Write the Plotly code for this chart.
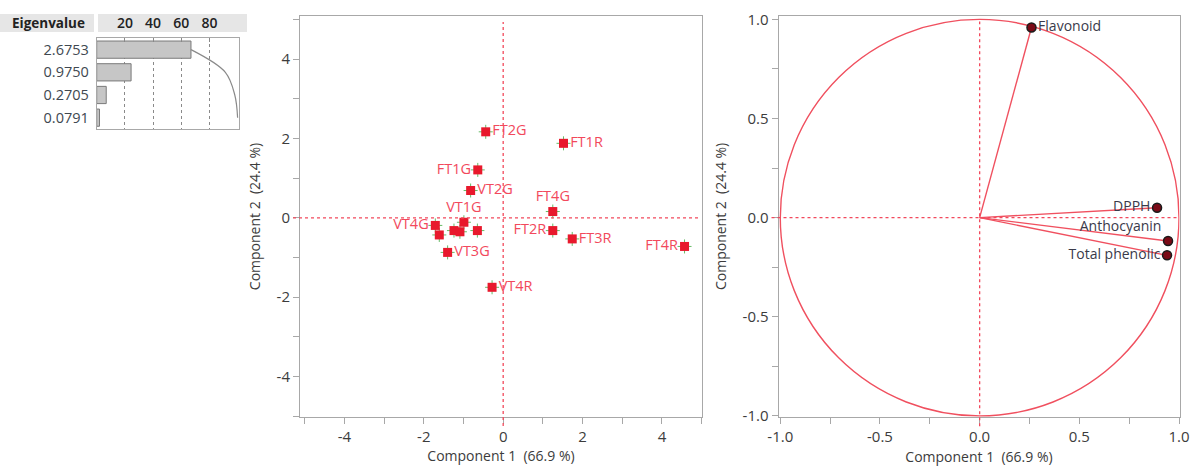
import plotly.graph_objects as go

# ---------------- data ----------------
eig_values = [2.6753, 0.9750, 0.2705, 0.0791]
eig_labels = ["2.6753", "0.9750", "0.2705", "0.0791"]
eig_percent = [66.9, 24.4, 6.76, 1.98]
eig_cum_percent = [66.9, 91.3, 98.0, 100.0]

score_names = ["FT2G", "FT1R", "FT1G", "VT2G", "FT4G", "VT1G", "VT4G", "VT1R",
               "VT2R", "VT3R", "FT3G", "VT3G", "FT2R", "FT3R", "FT4R", "VT4R"]
score_show = [1, 1, 1, 1, 1, 1, 1, 0, 0, 0, 0, 1, 1, 1, 1, 1]
score_pc1 = [-0.44, 1.52, -0.64, -0.82, 1.25, -0.99, -1.71, -1.61,
             -1.24, -1.09, -0.65, -1.40, 1.25, 1.74, 4.57, -0.28]
score_pc2 = [2.17, 1.88, 1.21, 0.69, 0.16, -0.11, -0.19, -0.43,
             -0.32, -0.35, -0.32, -0.87, -0.32, -0.53, -0.72, -1.75]
score_textpos = ["middle right", "middle right", "middle left", "middle right",
                 "top center", "top center", "middle left", "middle right",
                 "middle right", "middle right", "middle right", "middle right",
                 "middle left", "middle right", "middle left", "middle right"]

load_names = ["Flavonoid", "DPPH", "Anthocyanin", "Total phenolic"]
load_pc1 = [0.26, 0.89, 0.945, 0.94]
load_pc2 = [0.959, 0.05, -0.118, -0.19]
load_textpos = ["middle right", "middle left", "top left", "middle left"]

score_ticks = [-4, -2, 0, 2, 4]
score_ticktext = ["-4", "-2", "0", "2", "4"]
load_ticks = [-1.0, -0.5, 0.0, 0.5, 1.0]
load_ticktext = ["-1.0", "-0.5", "0.0", "0.5", "1.0"]
eig_ticks = [20, 40, 60, 80]

x_title = "Component 1  (66.9 %)"
y_title = "Component 2  (24.4 %)"

# ---------------- layout geometry (pixels) ----------------
W, H = 1192, 468
def fx(px):
    return px / W
def fy(py):
    return 1 - py / H

score_box = dict(l=300, r=702, t=16, b=417)
load_box = dict(l=778.5, r=1179.5, t=15.5, b=417.3)
eig_box = dict(l=96.7, r=239.3, t=38.3, b=129)

score_xr = [-5.12, 5.01]
score_yr = [-5.02, 5.09]
load_xr = [-1.009, 1.0025]
load_yr = [-1.007, 1.0196]

FONT = "Open Sans"
TXT = "#3c3c3c"
AX = "#a8a8a8"
RED = "#e8192c"
LRED = "#f2495c"

fig = go.Figure()

# ----- eigenvalue bars -----
fig.add_trace(go.Bar(
    x=eig_percent, y=list(range(len(eig_values))), orientation="h",
    marker=dict(color="#c6c6c6", line=dict(color="#7a7a7a", width=1)),
    width=0.76, xaxis="x3", yaxis="y3", hoverinfo="x", showlegend=False))
fig.add_trace(go.Scatter(
    x=eig_cum_percent, y=list(range(len(eig_values))), mode="lines",
    line=dict(color="#8a8a8a", width=1.2, shape="spline"),
    xaxis="x3", yaxis="y3", showlegend=False, hoverinfo="skip"))

# ----- score plot -----
fig.add_trace(go.Scatter(
    x=score_pc1, y=score_pc2, mode="markers",
    marker=dict(symbol="cross-thin", size=10, line=dict(color="#66bb66", width=1)),
    xaxis="x", yaxis="y", showlegend=False, hoverinfo="skip"))
fig.add_trace(go.Scatter(
    x=score_pc1, y=score_pc2, mode="markers+text",
    text=[n if s else "" for n, s in zip(score_names, score_show)],
    hovertext=score_names, hoverinfo="text+x+y",
    textposition=score_textpos,
    textfont=dict(family=FONT, size=14.5, color=LRED),
    marker=dict(symbol="square", size=9, color=RED),
    xaxis="x", yaxis="y", showlegend=False, cliponaxis=False))

# ----- loading plot -----
for nm, a, b in zip(load_names, load_pc1, load_pc2):
    fig.add_trace(go.Scatter(
        x=[0, a], y=[0, b], mode="lines",
        line=dict(color="#f0505f", width=1.4),
        xaxis="x2", yaxis="y2", showlegend=False, hoverinfo="skip"))
fig.add_trace(go.Scatter(
    x=load_pc1, y=load_pc2, mode="markers+text", text=load_names,
    textposition=load_textpos,
    textfont=dict(family=FONT, size=14, color="#3a3a4a"),
    marker=dict(symbol="circle", size=9, color="#7a0a16",
                line=dict(color="#1a1a1a", width=1.5)),
    xaxis="x2", yaxis="y2", showlegend=False, cliponaxis=False))

def axis_common(rng, dom, anchor, tickvals, ticktext, minor_dtick):
    return dict(
        range=rng, domain=dom, anchor=anchor, tickvals=tickvals, ticktext=ticktext,
        showgrid=False, zeroline=False, showline=True, linecolor=AX, linewidth=1,
        mirror=True, ticks="outside", ticklen=6, tickcolor=AX, tickwidth=1,
        minor=dict(dtick=minor_dtick, ticks="outside", ticklen=6, tickcolor=AX,
                   showgrid=False, tick0=0),
        tickfont=dict(family=FONT, size=15, color=TXT),
        automargin=False, fixedrange=True)

xa1 = axis_common(score_xr, [fx(score_box["l"]), fx(score_box["r"])], "y",
                  score_ticks, score_ticktext, 1)
xa1["title"] = dict(text=x_title, font=dict(family=FONT, size=14, color=TXT), standoff=6)
ya1 = axis_common(score_yr, [fy(score_box["b"]), fy(score_box["t"])], "x",
                  score_ticks, score_ticktext, 1)
ya1["title"] = dict(text=y_title, font=dict(family=FONT, size=14, color=TXT), standoff=12)

xa2 = axis_common(load_xr, [fx(load_box["l"]), fx(load_box["r"])], "y2",
                  load_ticks, load_ticktext, 0.25)
xa2["title"] = dict(text=x_title, font=dict(family=FONT, size=14, color=TXT), standoff=6)
ya2 = axis_common(load_yr, [fy(load_box["b"]), fy(load_box["t"])], "x2",
                  load_ticks, load_ticktext, 0.25)
ya2["title"] = dict(text=y_title, font=dict(family=FONT, size=14, color=TXT), standoff=12)

xa3 = dict(range=[0, 101.2], domain=[fx(eig_box["l"]), fx(eig_box["r"])], anchor="y3",
           side="top", tickvals=eig_ticks, showgrid=True, gridcolor="#8a8a8a",
           griddash="dot", gridwidth=1, zeroline=False, showline=True, linecolor=AX,
           mirror=True, ticks="inside", ticklen=4, tickcolor="#8a8a8a",
           tickfont=dict(family=FONT, size=14, color="#222222", weight=600),
           ticklabelstandoff=4, automargin=False, fixedrange=True)
ya3 = dict(range=[len(eig_values) - 0.5, -0.5], domain=[fy(eig_box["b"]), fy(eig_box["t"])],
           anchor="x3", tickvals=list(range(len(eig_values))), ticktext=eig_labels,
           showgrid=False, zeroline=False, showline=True, linecolor=AX, mirror=True,
           ticks="", tickfont=dict(family=FONT, size=14.5, color="#404850"),
           ticklabelstandoff=4, automargin=False, fixedrange=True)

shapes = []
# header band of eigenvalue table
shapes.append(dict(type="rect", xref="paper", yref="paper", x0=fx(0), x1=fx(94),
                   y0=fy(32), y1=fy(14), fillcolor="#e6e6e6", line=dict(width=0),
                   layer="below"))
shapes.append(dict(type="rect", xref="paper", yref="paper", x0=fx(98), x1=fx(247),
                   y0=fy(32), y1=fy(14), fillcolor="#e6e6e6", line=dict(width=0),
                   layer="below"))

# zero reference lines (dotted), extending slightly beyond frames like the original
def zero_lines(box, xr, yr):
    out = []
    px0 = box["l"] + (0 - xr[0]) / (xr[1] - xr[0]) * (box["r"] - box["l"])
    py0 = box["b"] - (0 - yr[0]) / (yr[1] - yr[0]) * (box["b"] - box["t"])
    out.append(dict(type="line", xref="paper", yref="paper",
                    x0=fx(px0), x1=fx(px0), y0=fy(box["b"] + 9), y1=fy(box["t"] + 6),
                    line=dict(color=LRED, width=1.3, dash="dot")))
    out.append(dict(type="line", xref="paper", yref="paper",
                    x0=fx(box["l"] - 7), x1=fx(box["r"] - 2), y0=fy(py0), y1=fy(py0),
                    line=dict(color=LRED, width=1.3, dash="dot")))
    return out

shapes += zero_lines(score_box, score_xr, score_yr)
shapes += zero_lines(load_box, load_xr, load_yr)

# unit circle of the loading plot
shapes.append(dict(type="circle", xref="x2", yref="y2", x0=-1, y0=-1, x1=1, y1=1,
                   line=dict(color="#f0505f", width=1.4), layer="below"))

annotations = [
    dict(text="<b>Eigenvalue</b>", xref="paper", yref="paper", x=fx(10), y=fy(23),
         xanchor="left", yanchor="middle", showarrow=False,
         font=dict(family=FONT, size=13.5, color="#222222")),
]

fig.update_layout(
    width=W, height=H, margin=dict(l=0, r=0, t=0, b=0, pad=0, autoexpand=False),
    paper_bgcolor="white", plot_bgcolor="white",
    xaxis=xa1, yaxis=ya1, xaxis2=xa2, yaxis2=ya2, xaxis3=xa3, yaxis3=ya3,
    shapes=shapes, annotations=annotations, bargap=0.2, showlegend=False,
    font=dict(family=FONT, color=TXT),
)

fig.write_html("out.html", config={"displayModeBar": False})
